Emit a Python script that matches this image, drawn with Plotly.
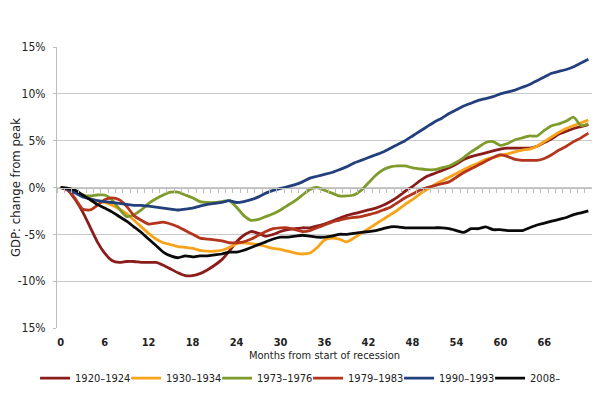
import plotly.graph_objects as go

months = list(range(0, 73))

s1920 = [0, -0.3, -1.3, -2.6, -4.2, -5.8, -7.0, -7.8, -8.0, -7.9, -7.9, -8.0, -8.0, -8.0, -8.3, -8.7,
         -9.1, -9.4, -9.4, -9.2, -8.8, -8.3, -7.7, -6.8, -5.8, -5.1, -4.7, -4.9, -5.2, -5.0, -4.7, -4.5,
         -4.4, -4.3, -4.3, -4.1, -3.9, -3.6, -3.3, -3.0, -2.8, -2.6, -2.4, -2.2, -1.9, -1.5, -1.0, -0.4,
         0.1, 0.7, 1.2, 1.5, 1.8, 2.1, 2.5, 3.0, 3.3, 3.5, 3.7, 3.9, 4.1, 4.2, 4.2, 4.2, 4.2, 4.4,
         4.8, 5.2, 5.7, 6.0, 6.3, 6.5, 6.7]

s1930 = [0, -0.2, -0.5, -0.8, -1.2, -1.4, -1.6, -1.9, -2.3, -2.8, -3.5, -4.2, -4.9, -5.5, -5.9, -6.1,
         -6.3, -6.4, -6.5, -6.7, -6.8, -6.8, -6.7, -6.4, -6.0, -5.9, -6.0, -6.1, -6.3, -6.5, -6.6, -6.8,
         -7.0, -7.1, -7.0, -6.4, -5.6, -5.4, -5.5, -5.8, -5.4, -4.9, -4.4, -3.9, -3.4, -2.9, -2.4, -1.8,
         -1.3, -0.7, -0.2, 0.3, 0.7, 1.1, 1.5, 1.9, 2.3, 2.6, 3.0, 3.2, 3.4, 3.6, 3.8, 4.0, 4.1, 4.4,
         4.9, 5.4, 5.9, 6.3, 6.6, 6.9, 7.2]

s1973 = [0, -0.2, -0.5, -0.8, -0.9, -0.8, -0.8, -1.3, -2.3, -3.1, -2.9, -2.4, -1.7, -1.2, -0.8, -0.5,
         -0.5, -0.8, -1.1, -1.5, -1.6, -1.6, -1.5, -1.4, -2.1, -3.0, -3.5, -3.4, -3.1, -2.8, -2.4, -1.9,
         -1.4, -0.8, -0.2, 0.0, -0.3, -0.6, -0.9, -0.9, -0.8, -0.3, 0.5, 1.3, 1.9, 2.2, 2.3, 2.3,
         2.1, 2.0, 1.9, 1.9, 2.1, 2.3, 2.7, 3.2, 3.8, 4.3, 4.8, 4.9, 4.5, 4.7, 5.1, 5.3, 5.5, 5.5,
         6.1, 6.6, 6.8, 7.1, 7.5, 6.6, 6.8]

s1979 = [0, -0.3, -1.2, -2.3, -2.4, -1.9, -1.3, -1.1, -1.3, -2.0, -3.0, -3.5, -3.9, -3.8, -3.7, -3.9,
         -4.2, -4.6, -5.0, -5.4, -5.5, -5.6, -5.7, -5.9, -5.9, -5.8, -5.5, -5.1, -4.7, -4.4, -4.3, -4.3,
         -4.5, -4.7, -4.6, -4.3, -4.0, -3.7, -3.5, -3.3, -3.2, -3.1, -2.9, -2.7, -2.4, -2.1, -1.6, -1.1,
         -0.7, -0.3, 0.0, 0.2, 0.4, 0.6, 1.1, 1.6, 2.0, 2.4, 2.8, 3.2, 3.5, 3.3, 3.0, 2.9, 2.9, 2.9,
         3.1, 3.5, 4.0, 4.4, 4.9, 5.3, 5.8]

s1990 = [0, -0.2, -0.6, -1.0, -1.2, -1.4, -1.5, -1.6, -1.7, -1.8, -1.9, -1.9, -2.0, -2.1, -2.2, -2.3,
         -2.4, -2.3, -2.2, -2.0, -1.8, -1.7, -1.6, -1.4, -1.6, -1.5, -1.3, -1.0, -0.6, -0.3, -0.1, 0.1,
         0.3, 0.6, 1.0, 1.2, 1.4, 1.6, 1.9, 2.2, 2.6, 2.9, 3.2, 3.5, 3.8, 4.2, 4.6, 5.0,
         5.5, 6.0, 6.5, 7.0, 7.4, 7.9, 8.3, 8.7, 9.0, 9.3, 9.5, 9.7, 10.0, 10.2, 10.4, 10.7, 11.0, 11.4,
         11.8, 12.2, 12.4, 12.6, 12.9, 13.3, 13.7]

s2008 = [0, -0.1, -0.3, -0.8, -1.3, -1.8, -2.2, -2.6, -3.1, -3.6, -4.2, -4.8, -5.5, -6.2, -6.9, -7.3,
         -7.5, -7.3, -7.4, -7.3, -7.3, -7.2, -7.1, -6.9, -6.9, -6.7, -6.4, -6.1, -5.8, -5.5, -5.3, -5.3,
         -5.2, -5.1, -5.2, -5.3, -5.3, -5.2, -5.0, -5.0, -4.9, -4.8, -4.7, -4.6, -4.4, -4.2, -4.2, -4.3,
         -4.3, -4.3, -4.3, -4.3, -4.3, -4.4, -4.6, -4.8, -4.4, -4.4, -4.2, -4.5, -4.5, -4.6, -4.6, -4.6, -4.3,
         -4.0, -3.8, -3.6, -3.4, -3.2, -2.9, -2.7, -2.5]

series_names = ["1920–1924", "1930–1934", "1973–1976", "1979–1983", "1990–1993", "2008–"]
series_values = [s1920, s1930, s1973, s1979, s1990, s2008]
series_colors = ["#8A1C1C", "#F9A31B", "#7E9B2C", "#B2351C", "#233F7C", "#0A0A0A"]

x_tickvals = list(range(0, 67, 6))
y_tickvals = [15, 10, 5, 0, -5, -10, -15]
y_ticktext = ["15%", "10%", "5%", "0%", "-5%", "-10%", "15%"]

FONT = "DejaVu Sans Condensed, DejaVu Sans, sans-serif"
TXT = "#222222"

fig = go.Figure()
# invisible helper so the zero-crossing axis (x2) is rendered
fig.add_trace(go.Scatter(x=[None], y=[None], xaxis="x2", showlegend=False, hoverinfo="skip"))
for name, vals, col in zip(series_names, series_values, series_colors):
    fig.add_trace(go.Scatter(
        x=months, y=vals, name=name, mode="lines",
        line=dict(color=col, width=2.8, shape="spline", smoothing=0.6),
    ))

fig.update_layout(
    width=600, height=400,
    margin=dict(l=49, r=16, t=39, b=80, autoexpand=False),
    paper_bgcolor="white", plot_bgcolor="white",
    font=dict(family=FONT, size=12, color=TXT),
    showlegend=True,
    legend=dict(orientation="h", x=-0.041, xanchor="left", y=-0.127, yanchor="top",
                font=dict(family=FONT, size=11, color=TXT),
                itemwidth=30, traceorder="normal", entrywidth=46, entrywidthmode="pixels"),
    xaxis=dict(range=[-0.5, 72.5], tickvals=x_tickvals, showgrid=False, zeroline=False,
               showline=False, ticks="", ticklabelstandoff=6,
               tickfont=dict(family=FONT, size=11, color=TXT, weight="bold"),
               title=dict(text="Months from start of recession", standoff=3,
                          font=dict(family=FONT, size=11, color=TXT))),
    xaxis2=dict(range=[-0.5, 72.5], overlaying="x", anchor="free", position=0.5, side="bottom",
                showline=True, linecolor="#BDBDBD", linewidth=1, ticks="outside", ticklen=4,
                tickcolor="#BDBDBD", tick0=-0.5, dtick=1, showticklabels=False, showgrid=False,
                zeroline=False),
    yaxis=dict(range=[-15, 15], tickvals=y_tickvals, ticktext=y_ticktext, showgrid=True,
               gridcolor="#C9C9C9", gridwidth=1, zeroline=False, showline=True, linecolor="#BDBDBD",
               ticks="outside", ticklen=3, tickcolor="#BDBDBD", ticklabelstandoff=5,
               tickfont=dict(family=FONT, size=12, color=TXT),
               title=dict(text="GDP: change from peak", standoff=8,
                          font=dict(family=FONT, size=13, color=TXT))),
)

fig.write_html("out.html")
